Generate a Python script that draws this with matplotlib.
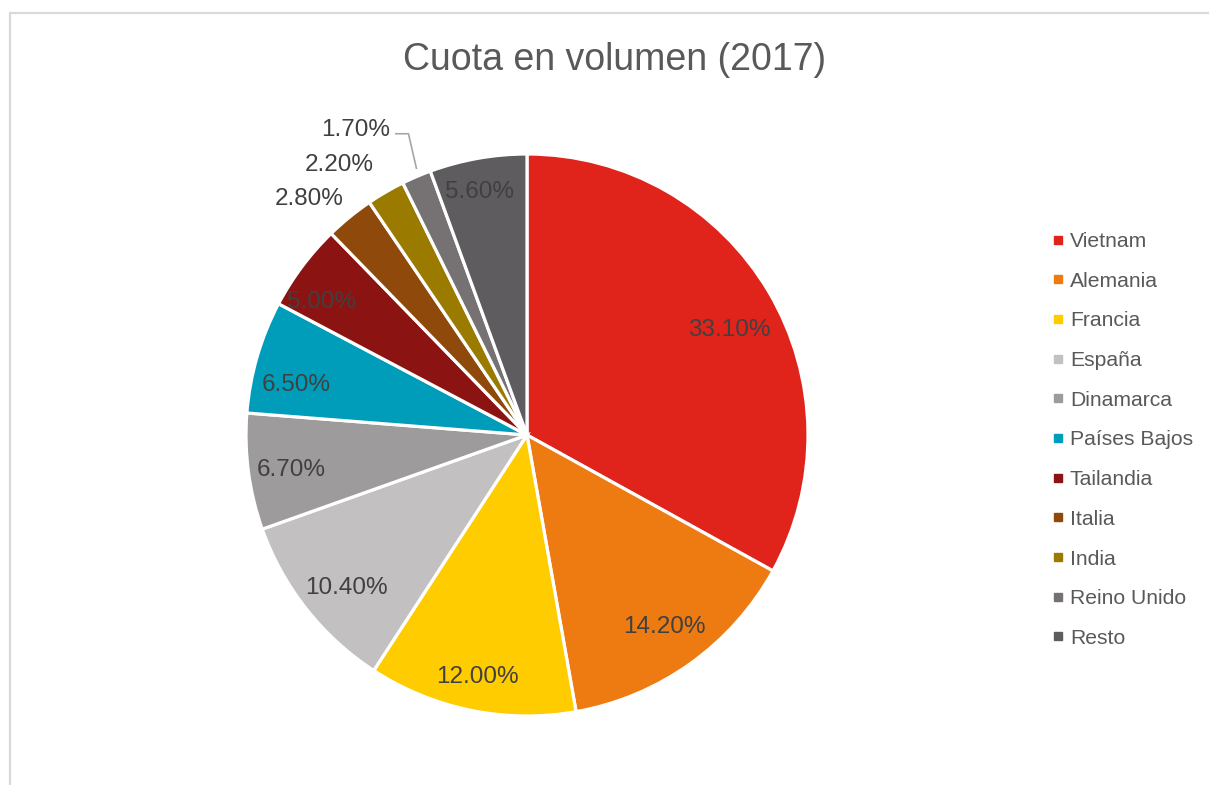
"""Cuota en volumen (2017) pie chart."""
import numpy as np
import matplotlib
matplotlib.use("Agg")
import matplotlib.pyplot as plt
from matplotlib.patches import Rectangle

plt.rcParams["font.family"] = ["Liberation Sans", "DejaVu Sans"]

countries = ["Vietnam", "Alemania", "Francia", "España", "Dinamarca",
             "Países Bajos", "Tailandia", "Italia", "India", "Reino Unido", "Resto"]
shares = [33.1, 14.2, 12.0, 10.4, 6.7, 6.5, 5.0, 2.8, 2.2, 1.7, 5.6]
colors = ["#E0241B", "#EE7B11", "#FFCC00", "#C2C0C0", "#9D9B9C",
          "#009DBA", "#8B1412", "#8F4A0B", "#9A7B00", "#767273", "#5E5C5F"]
# label distance as fraction of radius (outside labels > 1)
label_r = [0.81, 0.84, 0.88, 0.84, 0.85, 0.84, 0.87, 1.14, 1.17, 1.245, 0.88]
label_shift = [-3, 0, 0, 2, 1, 4, 4, 3.5, 4.5, 6, 1]  # degrees

TEXT = "#404040"


def main():
    fig = plt.figure(figsize=(12.09, 7.85), dpi=100)
    W, H = 1209, 785

    # chart frame
    fig.patches.append(Rectangle((9.5 / W, -0.05), 1.2, 1 - 12.5 / H + 0.05,
                                 transform=fig.transFigure, fill=False,
                                 edgecolor="#D9D9D9", linewidth=1.6))

    cx, cy, r = 527, 435, 281
    ax = fig.add_axes([(cx - r) / W, 1 - (cy + r) / H, 2 * r / W, 2 * r / H])
    wedges, _ = ax.pie(shares, colors=colors, startangle=90, counterclock=False,
                       wedgeprops=dict(edgecolor="white", linewidth=2.3))
    ax.set_xlim(-1, 1)
    ax.set_ylim(-1, 1)
    ax.set_aspect("equal")
    ax.axis("off")

    for w, s, d, sh in zip(wedges, shares, label_r, label_shift):
        mid = np.deg2rad((w.theta1 + w.theta2) / 2 + sh)
        x, y = d * np.cos(mid), d * np.sin(mid)
        ha = "center" if d < 1 else "right"
        if d >= 1:
            x += 0.12
        ax.text(x, y, f"{s:.2f}%", ha=ha, va="center", fontsize=17.5,
                color=TEXT, clip_on=False)

    # leader line for Reino Unido
    w = wedges[9]
    mid = np.deg2rad((w.theta1 + w.theta2) / 2)
    ex, ey = 1.0 * np.cos(mid), 1.0 * np.sin(mid)
    d = label_r[9]
    lx = d * np.cos(np.deg2rad(np.rad2deg(mid) + label_shift[9])) + 0.14
    ly = d * np.sin(np.deg2rad(np.rad2deg(mid) + label_shift[9])) - 0.015
    ax.plot([lx, lx + 0.045, ex], [ly, ly, ey + 0.03], color="#A6A6A6",
            linewidth=1.2, clip_on=False)

    fig.text(615 / W, 1 - 60 / H, "Cuota en volumen (2017)", ha="center",
             va="center", fontsize=27, color="#595959")

    handles = [plt.Line2D([], [], marker="s", linestyle="none", markersize=5.5,
                          markerfacecolor=c, markeredgecolor=c) for c in colors]
    fig.legend(handles, countries, loc="upper left",
               bbox_to_anchor=(1033 / W, 1 - 213 / H), frameon=False,
               fontsize=15.2, labelcolor="#595959", handlelength=0.6,
               handletextpad=0.25, labelspacing=0.98)

    fig.savefig("out.png", dpi=100)


if __name__ == "__main__":
    main()
